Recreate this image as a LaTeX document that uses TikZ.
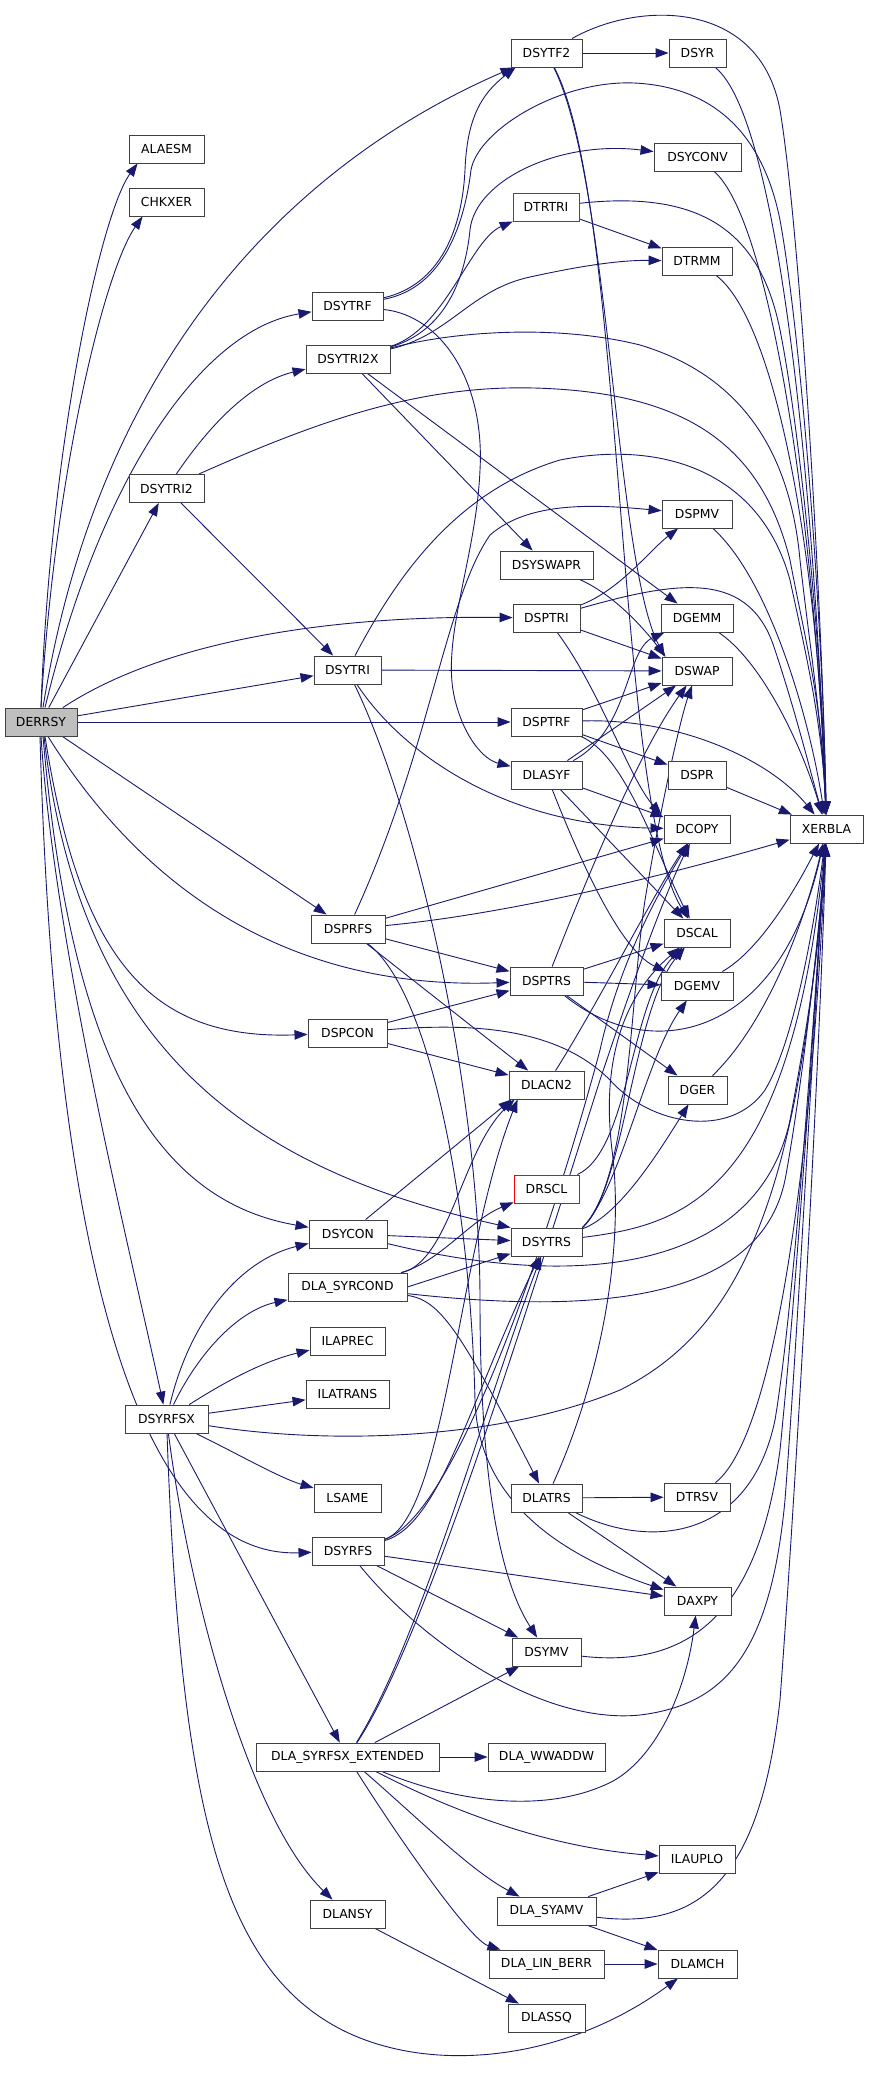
\documentclass[tikz,border=0pt]{standalone}
\usepackage{fontspec}
\newfontfamily\dvsans{DejaVu Sans}
\usetikzlibrary{arrows.meta,calc}
\definecolor{edgecol}{HTML}{191970}
\definecolor{boxgray}{HTML}{404040}
\definecolor{rootfill}{HTML}{BFBFBF}
\pgfdeclarelayer{bglayer}
\pgfdeclarelayer{edgelayer}
\pgfsetlayers{bglayer,edgelayer,main}
\begin{document}
\begin{tikzpicture}[x=1pt,y=-1pt,
  box/.style={draw=boxgray,line width=0.9pt,fill=white,inner sep=0pt,minimum height=28pt,text=black,font=\dvsans\fontsize{12.4pt}{14pt}\selectfont},
  redbox/.style={box,draw=red},
  ed/.style={draw=edgecol,line width=0.9pt,-{Triangle[length=13pt,width=9.5pt]}}]
\begin{pgfonlayer}{bglayer}
\fill[white] (0,0) rectangle (869,2077);
\end{pgfonlayer}
\useasboundingbox (0,0) rectangle (869,2077);
% nodes
\node[box,minimum width=72pt,fill=rootfill] (derrsy) at (41,722) {DERRSY};
\node[box,minimum width=75pt] (alaesm) at (166.5,149) {ALAESM};
\node[box,minimum width=75pt] (chkxer) at (166.5,202) {CHKXER};
\node[box,minimum width=71pt] (dsytrf) at (347.5,306) {DSYTRF};
\node[box,minimum width=84pt] (dsytri2x) at (348,359) {DSYTRI2X};
\node[box,minimum width=75pt] (dsytri2) at (166.5,488.5) {DSYTRI2};
\node[box,minimum width=71pt] (dsytf2) at (546.5,53) {DSYTF2};
\node[box,minimum width=57pt] (dsyr) at (697.5,53) {DSYR};
\node[box,minimum width=87pt] (dsyconv) at (697.5,157) {DSYCONV};
\node[redbox,minimum width=66pt] (dtrtri) at (546,207) {DTRTRI};
\node[box,minimum width=70pt] (dtrmm) at (697,261) {DTRMM};
\node[box,minimum width=70pt] (dspmv) at (697,514) {DSPMV};
\node[box,minimum width=67pt] (dsytri) at (347.5,670) {DSYTRI};
\node[box,minimum width=74pt] (dsprfs) at (348,929) {DSPRFS};
\node[box,minimum width=79pt] (dspcon) at (347.5,1033) {DSPCON};
\node[box,minimum width=93pt] (dsyswapr) at (546.5,565) {DSYSWAPR};
\node[box,minimum width=67pt] (dsptri) at (546.5,618) {DSPTRI};
\node[box,minimum width=72pt] (dgemm) at (697,618) {DGEMM};
\node[box,minimum width=70pt] (dswap) at (697,671) {DSWAP};
\node[box,minimum width=71pt] (dsptrf) at (546.5,722) {DSPTRF};
\node[box,minimum width=71pt] (dlasyf) at (546.5,775) {DLASYF};
\node[box,minimum width=58pt] (dspr) at (697,775) {DSPR};
\node[box,minimum width=66pt] (dcopy) at (697,829) {DCOPY};
\node[box,minimum width=73pt] (xerbla) at (826.5,829) {XERBLA};
\node[box,minimum width=66pt] (dscal) at (697,933) {DSCAL};
\node[box,minimum width=73pt] (dsptrs) at (546.5,981) {DSPTRS};
\node[box,minimum width=72pt] (dgemv) at (697,986) {DGEMV};
\node[box,minimum width=78pt] (dsycon) at (348,1234) {DSYCON};
\node[box,minimum width=119pt] (dlasyrcond) at (347.5,1287) {DLA\_SYRCOND};
\node[box,minimum width=75pt] (ilaprec) at (347.5,1341) {ILAPREC};
\node[box,minimum width=83pt] (ilatrans) at (347.5,1394) {ILATRANS};
\node[box,minimum width=83pt] (dsyrfsx) at (166.5,1419) {DSYRFSX};
\node[box,minimum width=67pt] (lsame) at (347.5,1498) {LSAME};
\node[box,minimum width=72pt] (dsyrfs) at (348,1551) {DSYRFS};
\node[box,minimum width=75pt] (dlacn2) at (546.5,1085) {DLACN2};
\node[box,minimum width=59pt] (dger) at (697.5,1090) {DGER};
\node[redbox,minimum width=65pt] (drscl) at (546.5,1189) {DRSCL};
\node[box,minimum width=71pt] (dsytrs) at (546.5,1242) {DSYTRS};
\node[box,minimum width=71pt] (dlatrs) at (546.5,1498) {DLATRS};
\node[box,minimum width=66pt] (dtrsv) at (697,1497) {DTRSV};
\node[box,minimum width=183pt] (dlasyrfsxext) at (347.5,1757) {DLA\_SYRFSX\_EXTENDED};
\node[box,minimum width=75pt] (dlansy) at (347.5,1914) {DLANSY};
\node[box,minimum width=67pt] (daxpy) at (697.5,1601) {DAXPY};
\node[box,minimum width=69pt] (dsymv) at (546.5,1652) {DSYMV};
\node[box,minimum width=117pt] (dlawwaddw) at (546.5,1757) {DLA\_WWADDW};
\node[box,minimum width=76pt] (ilauplo) at (697,1859) {ILAUPLO};
\node[box,minimum width=99pt] (dlasyamv) at (546.5,1911) {DLA\_SYAMV};
\node[box,minimum width=115pt] (dlalinberr) at (546.5,1964) {DLA\_LIN\_BERR};
\node[box,minimum width=79pt] (dlamch) at (697.5,1964) {DLAMCH};
\node[box,minimum width=77pt] (dlassq) at (546.5,2018) {DLASSQ};
\begin{pgfonlayer}{edgelayer}
% DERRSY
\draw[ed] (derrsy.north) .. controls (50,450) and (100,215) .. ([xshift=9pt]alaesm.south west);
\draw[ed] (derrsy.north) .. controls (55,470) and (105,270) .. ([xshift=14pt]chkxer.south west);
\draw[ed] ([xshift=2pt]derrsy.north) .. controls (100,350) and (300,160) .. ([xshift=3pt]dsytf2.south west);
\draw[ed] ([xshift=4pt]derrsy.north) .. controls (100,480) and (200,330) .. (dsytrf);
\draw[ed] (derrsy) -- (dsytri2);
\draw[ed] (derrsy) -- (dsytri);
\draw[ed] (derrsy) .. controls (150,650) and (300,615) .. (dsptri);
\draw[ed] (derrsy) -- (dsptrf);
\draw[ed] (derrsy) -- (dsprfs);
\draw[ed] ([xshift=7pt]derrsy.south) .. controls (150,900) and (300,990) .. (dsptrs);
\draw[ed] ([xshift=4pt]derrsy.south) .. controls (80,960) and (150,1040) .. (dspcon);
\draw[ed] ([xshift=3pt]derrsy.south) .. controls (80,1050) and (250,1170) .. (dsytrs.north west);
\draw[ed] ([xshift=2pt]derrsy.south) .. controls (70,1050) and (150,1200) .. (dsycon);
\draw[ed] (derrsy.south) .. controls (55,950) and (130,1250) .. (dsyrfsx);
\draw[ed] ([xshift=-1pt]derrsy.south) .. controls (50,1100) and (100,1560) .. (dsyrfs);
% DSYTRF
\draw[ed] (dsytrf) .. controls (440,285) and (462,230) .. (465,170) .. controls (467,120) and (480,95) .. ([xshift=5pt]dsytf2.south west);
\draw[ed] (dsytrf) .. controls (445,288) and (465,220) .. (471,170) .. controls (478,130) and (560,80) .. (634,83) .. controls (700,86) and (760,120) .. (780,220) .. controls (800,330) and (822,600) .. (xerbla);
\draw[ed] (dsytrf) .. controls (440,315) and (485,380) .. (480,470) .. controls (476,560) and (440,640) .. (455,700) .. controls (465,740) and (485,760) .. (dlasyf);
% DSYTF2
\draw[ed] (dsytf2) -- (dsyr);
\draw[ed] (dsytf2) .. controls (640,0) and (760,0) .. (780,110) .. controls (800,230) and (822,600) .. (xerbla);
\draw[ed] (dsytf2) .. controls (610,180) and (615,560) .. ([xshift=3pt]dswap.north west);
\draw[ed] (dsytf2) .. controls (625,200) and (615,800) .. (dscal);
\draw[ed] (dsyr) .. controls (780,120) and (815,500) .. (xerbla);
\draw[ed] (dsyconv) .. controls (770,220) and (815,520) .. (xerbla);
\draw[ed] (dtrtri) -- (dtrmm);
\draw[ed] (dtrtri) .. controls (700,190) and (760,230) .. (780,330) .. controls (800,430) and (822,650) .. (xerbla);
\draw[ed] (dtrmm) .. controls (775,320) and (818,550) .. (xerbla);
% DSYTRI2X
\draw[ed] (dsytri2x) .. controls (450,330) and (466,270) .. (470,230) .. controls (475,180) and (560,140) .. (dsyconv);
\draw[ed] (dsytri2x) .. controls (445,330) and (470,240) .. (dtrtri);
\draw[ed] (dsytri2x) .. controls (450,335) and (470,290) .. (530,277) .. controls (580,266) and (620,260) .. (dtrmm);
\draw[ed] (dsytri2x) .. controls (460,330) and (560,325) .. (640,345) .. controls (740,375) and (790,450) .. (800,560) .. controls (810,650) and (822,720) .. (xerbla);
\draw[ed] (dsytri2x) -- (dsyswapr);
\draw[ed] (dsytri2x) -- (dgemm);
% DSYTRI2
\draw[ed] (dsytri2) .. controls (220,410) and (260,380) .. (dsytri2x);
\draw[ed] (dsytri2) .. controls (320,420) and (420,385) .. (534,388) .. controls (680,392) and (760,440) .. (790,560) .. controls (805,640) and (822,700) .. (xerbla);
\draw[ed] (dsytri2) -- (dsytri);
% DSYTRI
\draw[ed] (dsytri) -- (dswap);
\draw[ed] (dsytri) .. controls (400,570) and (460,490) .. (560,460) .. controls (660,440) and (760,470) .. (790,580) .. controls (805,650) and (822,720) .. (xerbla);
\draw[ed] (dsytri) .. controls (400,750) and (500,825) .. (dcopy);
\draw[ed] (dsytri) .. controls (420,820) and (480,1100) .. (480,1300) .. controls (480,1480) and (500,1580) .. (dsymv);
% DSPTRI
\draw[ed] (dsptri) .. controls (620,590) and (650,550) .. (dspmv);
\draw[ed] (dsptri) -- (dswap);
\draw[ed] (dsptri) .. controls (680,580) and (750,570) .. (775,650) .. controls (795,710) and (810,770) .. (xerbla);
\draw[ed] (dsptri) .. controls (600,690) and (630,780) .. ([xshift=-2pt]dcopy.north west);
% DSPTRF
\draw[ed] (dsptrf) -- (dswap);
\draw[ed] (dsptrf) .. controls (680,718) and (770,760) .. (xerbla);
\draw[ed] (dsptrf) -- (dspr);
\draw[ed] (dsptrf) .. controls (625,755) and (655,850) .. (dscal);
% DLASYF
\draw[ed] (dlasyf) -- (dswap);
\draw[ed] (dlasyf) .. controls (630,730) and (625,650) .. (dgemm);
\draw[ed] (dlasyf) -- (dcopy);
\draw[ed] (dlasyf) -- (dscal);
\draw[ed] (dlasyf) .. controls (580,860) and (620,950) .. (dgemv);
\draw[ed] (dsyswapr) .. controls (615,595) and (645,630) .. ([xshift=4pt]dswap.north west);
\draw[ed] (dspr) -- (xerbla);
\draw[ed] (dgemm) .. controls (760,660) and (800,740) .. (xerbla);
\draw[ed] (dspmv) .. controls (770,580) and (810,720) .. (xerbla);
\draw[ed] (dgemv) .. controls (760,950) and (795,890) .. (xerbla);
% DSPRFS
\draw[ed] (dsprfs) .. controls (430,750) and (445,600) .. (490,535) .. controls (530,500) and (600,505) .. (dspmv);
\draw[ed] (dsprfs) -- (dcopy);
\draw[ed] (dsprfs) .. controls (500,915) and (650,880) .. (xerbla);
\draw[ed] (dsprfs) -- (dsptrs);
\draw[ed] (dsprfs) -- (dlacn2);
\draw[ed] (dsprfs) .. controls (430,990) and (470,1200) .. (475,1400) .. controls (478,1500) and (560,1555) .. (daxpy);
% DSPTRS
\draw[ed] (dsptrs) -- (dscal);
\draw[ed] (dsptrs) -- (dgemv);
\draw[ed] (dsptrs) -- (dger);
\draw[ed] (dsptrs) .. controls (590,870) and (640,750) .. (dswap);
\draw[ed] (dsptrs) .. controls (650,1065) and (780,1040) .. (xerbla);
% DSPCON
\draw[ed] (dspcon) -- (dsptrs);
\draw[ed] (dspcon) -- (dlacn2);
\draw[ed] (dspcon) .. controls (480,1022) and (560,1030) .. (610,1080) .. controls (650,1125) and (730,1140) .. (765,1090) .. controls (795,1040) and (815,920) .. (xerbla);
\draw[ed] (dlacn2) .. controls (600,1000) and (650,900) .. (dcopy);
% DSYCON
\draw[ed] (dsycon) -- ([xshift=3pt]dlacn2.south west);
\draw[ed] (dsycon) -- (dsytrs);
\draw[ed] (dsycon) .. controls (600,1295) and (760,1260) .. (790,1120) .. controls (805,1040) and (820,950) .. (xerbla);
% DLA_SYRCOND
\draw[ed] (dlasyrcond) .. controls (450,1260) and (462,1150) .. ([xshift=6pt]dlacn2.south west);
\draw[ed] (dlasyrcond) .. controls (440,1262) and (470,1220) .. (drscl);
\draw[ed] (dlasyrcond.east) -- (dsytrs);
\draw[ed] (dlasyrcond) .. controls (600,1315) and (760,1300) .. (785,1180) .. controls (800,1100) and (818,950) .. (xerbla);
\draw[ed] (dlasyrcond) .. controls (440,1300) and (460,1330) .. (dlatrs);
\draw[ed] (drscl) .. controls (630,1150) and (630,1000) .. (dscal);
% DSYTRS
\draw[ed] (dsytrs.north east) .. controls (630,1180) and (630,1000) .. (645,900) .. controls (660,810) and (680,720) .. (dswap);
\draw[ed] (dsytrs.north east) .. controls (625,1190) and (632,1010) .. (dscal);
\draw[ed] (dsytrs.north east) .. controls (620,1190) and (645,1060) .. (dgemv);
\draw[ed] (dsytrs) .. controls (620,1215) and (660,1150) .. (dger);
\draw[ed] (dsytrs) .. controls (680,1225) and (790,1200) .. (xerbla);
% DSYRFSX
\draw[ed] (dsyrfsx) .. controls (190,1320) and (240,1260) .. (dsycon);
\draw[ed] (dsyrfsx) .. controls (200,1350) and (240,1310) .. (dlasyrcond);
\draw[ed] (dsyrfsx) .. controls (220,1385) and (260,1362) .. (ilaprec);
\draw[ed] (dsyrfsx) -- (ilatrans);
\draw[ed] (dsyrfsx) .. controls (330,1445) and (500,1440) .. (620,1390) .. controls (740,1330) and (800,1200) .. (xerbla);
\draw[ed] (dsyrfsx) .. controls (240,1455) and (280,1478) .. (lsame);
\draw[ed] (dsyrfsx) -- (dlasyrfsxext);
\draw[ed] (dsyrfsx) .. controls (190,1600) and (250,1820) .. (dlansy);
\draw[ed] (dsyrfsx) .. controls (180,1800) and (220,1960) .. (333,2025) .. controls (420,2075) and (560,2065) .. (dlamch);
% DSYRFS
\draw[ed] (dsyrfs) .. controls (440,1525) and (470,1400) .. (dsytrs);
\draw[ed] (dsyrfs) .. controls (445,1520) and (458,1250) .. ([xshift=9pt]dlacn2.south west);
\draw[ed] (dsyrfs) .. controls (460,1515) and (560,1200) .. (600,1050) .. controls (620,960) and (660,890) .. (dcopy);
\draw[ed] (dsyrfs) -- (daxpy);
\draw[ed] (dsyrfs) -- (dsymv);
\draw[ed] (dsyrfs) .. controls (420,1640) and (540,1725) .. (640,1715) .. controls (720,1705) and (770,1660) .. (785,1500) .. controls (800,1300) and (815,1000) .. (xerbla);
\draw[ed] (dsymv) .. controls (700,1670) and (760,1600) .. (780,1450) .. controls (800,1250) and (815,1000) .. (xerbla);
% DLATRS
\draw[ed] (dlatrs) -- (dtrsv);
\draw[ed] (dlatrs) -- (daxpy);
\draw[ed] (dlatrs) .. controls (650,1550) and (750,1540) .. (775,1420) .. controls (795,1300) and (815,1000) .. (xerbla);
\draw[ed] (dlatrs) .. controls (600,1380) and (625,1250) .. (612,1150) .. controls (600,1050) and (630,990) .. (dscal);
\draw[ed] (dtrsv) .. controls (770,1440) and (810,1200) .. (xerbla);
\draw[ed] (dger) .. controls (760,1030) and (800,940) .. (xerbla);
% DLA_SYRFSX_EXTENDED
\draw[ed] (dlasyrfsxext) -- (dlawwaddw);
\draw[ed] (dlasyrfsxext) -- (dsymv);
\draw[ed] (dlasyrfsxext) .. controls (420,1640) and (480,1420) .. (dsytrs);
\draw[ed] (dlasyrfsxext) .. controls (425,1640) and (530,1300) .. (600,1080) .. controls (630,990) and (662,900) .. (dcopy);
\draw[ed] (dlasyrfsxext) .. controls (450,1800) and (540,1815) .. (607,1784) .. controls (650,1765) and (685,1700) .. (daxpy);
\draw[ed] (dlasyrfsxext) .. controls (470,1820) and (560,1848) .. (ilauplo);
\draw[ed] (dlasyrfsxext) .. controls (420,1820) and (470,1870) .. (dlasyamv);
\draw[ed] (dlasyrfsxext) .. controls (400,1840) and (470,1940) .. (dlalinberr);
\draw[ed] (dlasyamv) -- (ilauplo);
\draw[ed] (dlasyamv) -- (dlamch);
\draw[ed] (dlasyamv) .. controls (700,1930) and (760,1880) .. (780,1700) .. controls (795,1500) and (818,1100) .. (xerbla);
\draw[ed] (dlalinberr) -- (dlamch);
\draw[ed] (dlansy) -- (dlassq);
\end{pgfonlayer}
\end{tikzpicture}
\end{document}
